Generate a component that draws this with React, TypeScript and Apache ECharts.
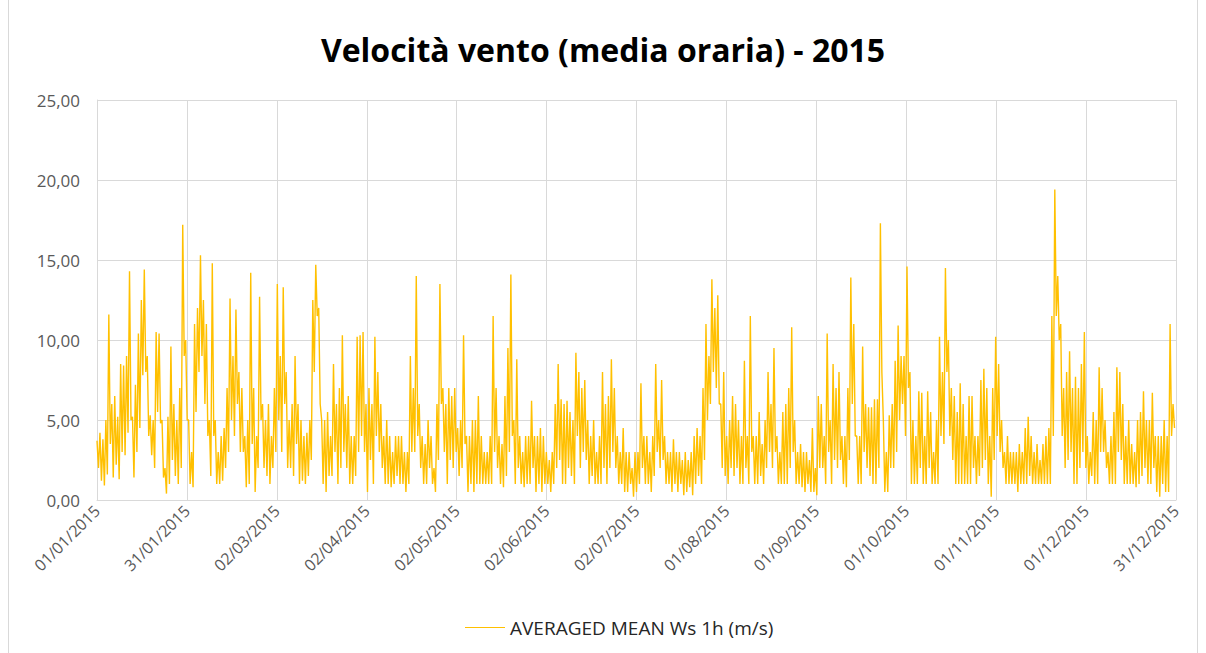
import React, { useEffect, useRef } from "react";
import * as echarts from "echarts";

const chartTitle = "Velocità vento (media oraria) - 2015";
const seriesName = "AVERAGED MEAN Ws 1h (m/s)";
const tickLabels = [
  "01/01/2015", "31/01/2015", "02/03/2015", "02/04/2015", "02/05/2015", "02/06/2015",
  "02/07/2015", "01/08/2015", "01/09/2015", "01/10/2015", "01/11/2015", "01/12/2015", "31/12/2015",
];
const yMax = 25;
const yStep = 5;
const daysInYear = 365;
const pointsPerDay = 2;

// values, two per day (peak / trough of each half day)
const jan = [3.7,2.0, 4.2,1.2, 3.8,0.9, 5.0,1.6, 11.6,3.5, 6.0,1.4, 6.5,2.2, 5.2,1.3, 8.5,3.0, 8.4,2.8, 9.0,4.2, 14.3,5.0, 5.2,1.4, 7.2,3.0, 10.4,4.5, 12.5,7.8, 14.4,8.0, 9.0,4.0, 5.3,2.8, 5.0,2.0, 10.5,5.5, 10.4,4.8, 5.0,1.4, 2.0,0.4, 5.2,1.0, 9.6,2.5, 6.0,1.5, 5.0,1.0, 7.0,2.0, 17.2,9.0, 10.0,5.0];
const feb = [5.0,1.0, 3.0,0.8, 11.0,5.5, 12.0,8.0, 15.3,9.0, 12.5,6.0, 11.0,4.0, 5.0,1.5, 14.8,4.0, 5.0,1.0, 3.0,1.0, 4.0,1.2, 4.5,2.0, 7.0,3.0, 12.6,5.0, 9.0,4.0, 11.9,6.0, 8.0,3.0, 7.0,3.0, 4.0,0.8, 5.0,1.0, 14.2,3.5, 7.0,0.5, 4.0,2.0, 12.7,5.0, 6.0,2.0, 5.0,1.5, 6.0,1.0];
const mar = [4.0,2.0, 7.0,3.0, 13.5,5.0, 9.0,3.0, 13.3,6.0, 8.0,2.0, 5.0,2.0, 6.0,1.5, 9.0,3.5, 6.0,1.0, 5.0,1.2, 4.0,1.0, 4.2,1.5, 5.0,2.5, 12.5,8.0, 14.7,11.5, 12.0,6.0, 5.0,1.0, 5.0,0.5, 5.5,1.5, 4.0,1.5, 8.5,3.0, 6.0,1.0, 7.0,2.0, 10.3,3.0, 6.0,2.0, 6.5,1.0, 4.0,1.0, 4.0,1.5, 10.2,3.0, 10.3,4.0];
const apr = [10.5,3.0, 6.0,0.5, 7.0,2.5, 6.0,1.0, 10.2,4.0, 8.0,3.0, 6.0,2.0, 4.0,1.0, 5.0,1.0, 4.0,0.8, 3.0,1.0, 4.0,1.5, 4.0,1.0, 4.0,1.0, 3.0,0.5, 3.0,1.0, 9.0,3.0, 7.0,3.0, 14.0,4.0, 6.0,2.0, 4.0,1.0, 3.5,1.0, 5.0,2.0, 4.0,1.0, 2.0,0.5, 6.0,2.5, 13.5,6.0, 7.0,3.0, 6.0,1.0, 7.0,2.5];
const may = [6.5,2.0, 7.0,3.0, 4.5,1.5, 5.0,2.0, 10.3,3.5, 4.0,0.5, 4.0,1.0, 5.0,0.5, 5.0,1.0, 6.5,1.0, 4.0,1.0, 3.0,1.0, 3.0,1.0, 4.0,1.0, 11.5,3.0, 7.0,2.0, 4.0,1.0, 3.5,0.8, 6.5,1.5, 9.5,3.0, 14.1,4.0, 5.0,1.0, 8.8,2.0, 4.0,1.0, 3.0,0.8, 4.0,1.0, 4.0,1.0, 6.2,2.0, 4.0,0.5, 4.0,1.0, 4.5,0.5];
const jun = [4.0,1.0, 3.0,1.0, 2.5,0.5, 3.0,1.0, 6.0,2.0, 8.5,2.5, 6.3,1.0, 6.0,1.0, 6.2,2.0, 5.5,1.5, 5.0,1.0, 9.2,4.0, 8.0,2.0, 7.0,3.0, 7.5,2.5, 5.0,1.0, 4.0,1.5, 5.0,1.0, 3.0,1.0, 4.0,1.0, 8.0,2.0, 6.0,1.0, 6.5,2.0, 8.8,3.0, 7.0,2.0, 4.0,1.0, 3.0,1.0, 4.5,0.5, 3.0,0.5, 3.0,1.0];
const jul = [2.0,0.2, 3.0,0.5, 3.0,1.0, 7.3,2.0, 4.0,1.0, 4.0,1.0, 3.0,0.5, 4.0,1.5, 8.5,3.0, 5.0,2.0, 7.5,2.5, 4.0,1.0, 3.0,1.0, 3.0,0.5, 3.8,1.0, 3.0,0.5, 3.0,1.0, 2.5,0.3, 3.0,0.5, 2.5,0.8, 3.0,0.3, 4.0,1.0, 4.5,1.5, 4.0,1.0, 7.0,2.5, 11.0,5.0, 9.0,6.0, 13.8,8.0, 12.0,7.0, 12.8,6.0, 6.0,2.0];
const aug = [8.0,1.5, 4.0,1.0, 5.0,2.0, 6.5,1.5, 6.0,2.0, 5.0,1.0, 4.0,1.0, 8.7,2.0, 4.0,1.0, 11.5,3.0, 4.0,1.0, 4.0,1.0, 5.5,1.5, 3.5,1.0, 5.0,2.0, 8.0,3.0, 6.0,2.0, 9.5,3.0, 4.0,1.0, 3.0,1.0, 5.5,1.0, 6.0,1.0, 7.0,2.0, 10.8,3.0, 5.0,1.0, 3.0,1.0, 3.5,0.8, 3.0,0.5, 3.0,1.0, 2.5,0.5, 4.5,0.5];
const sep = [2.0,0.3, 6.5,2.0, 6.0,2.0, 4.0,1.0, 10.4,3.0, 5.0,1.0, 8.5,2.5, 7.0,2.0, 8.0,2.5, 4.0,1.0, 4.0,0.8, 7.0,2.5, 13.9,6.0, 11.0,4.0, 4.0,1.0, 4.0,1.0, 9.6,3.0, 6.0,2.0, 5.8,1.5, 5.8,1.0, 6.3,1.0, 6.3,2.0, 17.3,8.0, 5.0,0.5, 3.0,0.5, 5.3,2.0, 6.0,2.0, 8.7,3.0, 10.9,5.0, 9.0,6.0];
const oct = [9.0,4.0, 14.6,7.0, 8.0,1.0, 5.0,1.0, 4.0,1.0, 6.8,2.0, 6.7,1.0, 4.0,1.0, 6.8,2.0, 5.5,1.0, 3.0,1.0, 5.0,1.0, 10.2,4.0, 8.0,3.5, 14.5,8.0, 10.0,4.0, 7.0,2.5, 6.5,1.0, 5.5,1.0, 7.3,1.0, 6.0,1.0, 4.0,1.0, 6.5,1.0, 6.5,2.0, 4.0,1.0, 4.0,1.5, 7.5,2.0, 8.2,2.5, 7.0,1.0, 4.0,0.2, 7.0,2.5];
const nov = [10.2,4.0, 8.5,3.0, 5.0,2.0, 3.0,1.0, 4.0,1.0, 3.0,1.0, 3.0,1.0, 3.0,0.5, 3.5,1.0, 3.0,1.0, 4.5,1.0, 5.2,1.5, 4.0,1.0, 3.0,1.0, 3.5,1.0, 2.5,1.0, 3.5,1.0, 4.0,1.0, 4.5,1.0, 11.5,4.0, 19.4,11.5, 14.0,10.0, 11.0,4.0, 7.0,2.0, 8.0,2.5, 9.3,3.0, 7.0,1.0, 7.7,1.0, 7.0,2.0, 8.5,3.0];
const dec = [10.5,2.0, 4.0,1.0, 3.0,1.5, 5.5,1.0, 5.0,1.0, 8.3,3.0, 7.0,3.0, 5.0,2.0, 3.0,1.0, 4.0,1.0, 5.5,1.0, 8.3,3.0, 8.0,2.5, 6.0,1.0, 4.0,1.0, 5.0,1.0, 3.5,1.0, 3.0,0.8, 5.0,1.0, 5.5,1.5, 6.8,2.0, 5.0,1.0, 5.0,1.0, 6.7,2.0, 4.0,0.5, 4.0,0.2, 4.0,1.0, 5.0,0.5, 4.0,0.5, 11.0,4.0, 6.0,4.5];
const months = [jan, feb, mar, apr, may, jun, jul, aug, sep, oct, nov, dec];

export default function App() {
  const ref = useRef<HTMLDivElement>(null);
  useEffect(() => {
    if (!ref.current) return;
    const chart = echarts.init(ref.current, null, { renderer: "svg" });
    const values = months.flat();
    const data = values.map((v, i) => [i / pointsPerDay, v]);
    const step = daysInYear / (tickLabels.length - 1);
    const font = "'Open Sans', 'Noto Sans', sans-serif";
    chart.setOption({
      animation: false,
      backgroundColor: "#ffffff",
      textStyle: { fontFamily: font },
      title: {
        text: chartTitle,
        left: "center",
        top: 28,
        textStyle: { fontSize: 32, fontWeight: "bold", color: "#000000", fontFamily: font },
      },
      graphic: [
        { type: "line", shape: { x1: 8.5, y1: 0, x2: 8.5, y2: 653 }, style: { stroke: "#d9d9d9", lineWidth: 1 }, silent: true },
        { type: "line", shape: { x1: 1197.5, y1: 0, x2: 1197.5, y2: 653 }, style: { stroke: "#d9d9d9", lineWidth: 1 }, silent: true },
      ],
      grid: { left: 97, top: 100, width: 1079, height: 400 },
      legend: {
        left: 460,
        top: 613,
        itemWidth: 40,
        itemHeight: 1,
        icon: "rect",
        itemStyle: { color: "#FFC000" },
        textStyle: { fontSize: 19, color: "#262626", fontFamily: font },
        data: [seriesName],
      },
      xAxis: {
        type: "value",
        min: 0,
        max: daysInYear,
        interval: step,
        axisLine: { show: true, lineStyle: { color: "#d9d9d9", width: 1 } },
        axisTick: { show: false },
        splitLine: { show: true, lineStyle: { color: "#d9d9d9", width: 1 } },
        axisLabel: {
          rotate: 45,
          margin: 8,
          fontSize: 16,
          color: "#595959",
          fontFamily: font,
          showMinLabel: true,
          showMaxLabel: true,
          formatter: (v: number) => tickLabels[Math.round(v / step)] ?? "",
        },
      },
      yAxis: {
        type: "value",
        min: 0,
        max: yMax,
        interval: yStep,
        axisLine: { show: true, lineStyle: { color: "#d9d9d9", width: 1 } },
        axisTick: { show: false },
        splitLine: { show: true, lineStyle: { color: "#d9d9d9", width: 1 } },
        axisLabel: {
          margin: 17,
          fontSize: 17,
          color: "#595959",
          fontFamily: font,
          formatter: (v: number) => v.toFixed(2).replace(".", ","),
        },
      },
      series: [
        {
          name: seriesName,
          type: "line",
          data,
          symbol: "none",
          showSymbol: false,
          lineStyle: { color: "#FFC000", width: 1.4 },
          itemStyle: { color: "#FFC000" },
        },
      ],
    });
    return () => chart.dispose();
  }, []);
  return (
    <div
      ref={ref}
      style={{ position: "fixed", left: 0, top: 0, width: 1206, height: 653, background: "#fff" }}
    />
  );
}
